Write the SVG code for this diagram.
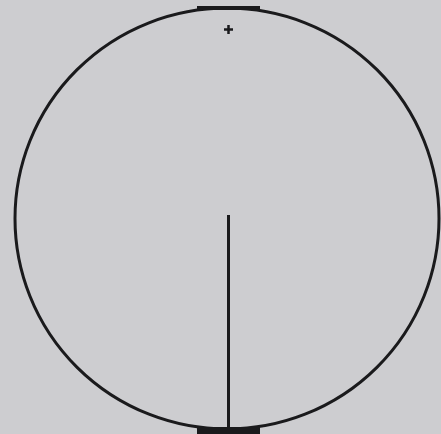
<svg xmlns="http://www.w3.org/2000/svg" width="441" height="434" viewBox="0 0 441 434">
<style>.ink{stroke:#1a1a1c;fill:none}</style>
<rect width="441" height="434" fill="#cdcdd0"/>
<g id="circle">
<ellipse class="ink" cx="227" cy="218.5" rx="212" ry="210.5" stroke-width="3"/>
<rect x="197" y="6" width="63" height="4" fill="#1a1a1c"/>
<rect x="197" y="427" width="63" height="7" fill="#1a1a1c"/>
</g>
<g id="plus">
<path class="ink" d="M224 29.5h9M228.5 25v9" stroke-width="2.5"/>
</g>
<g id="connectors">
<line class="ink" x1="228.5" y1="215" x2="228.5" y2="430" stroke-width="3"/>
</g>
</svg>
